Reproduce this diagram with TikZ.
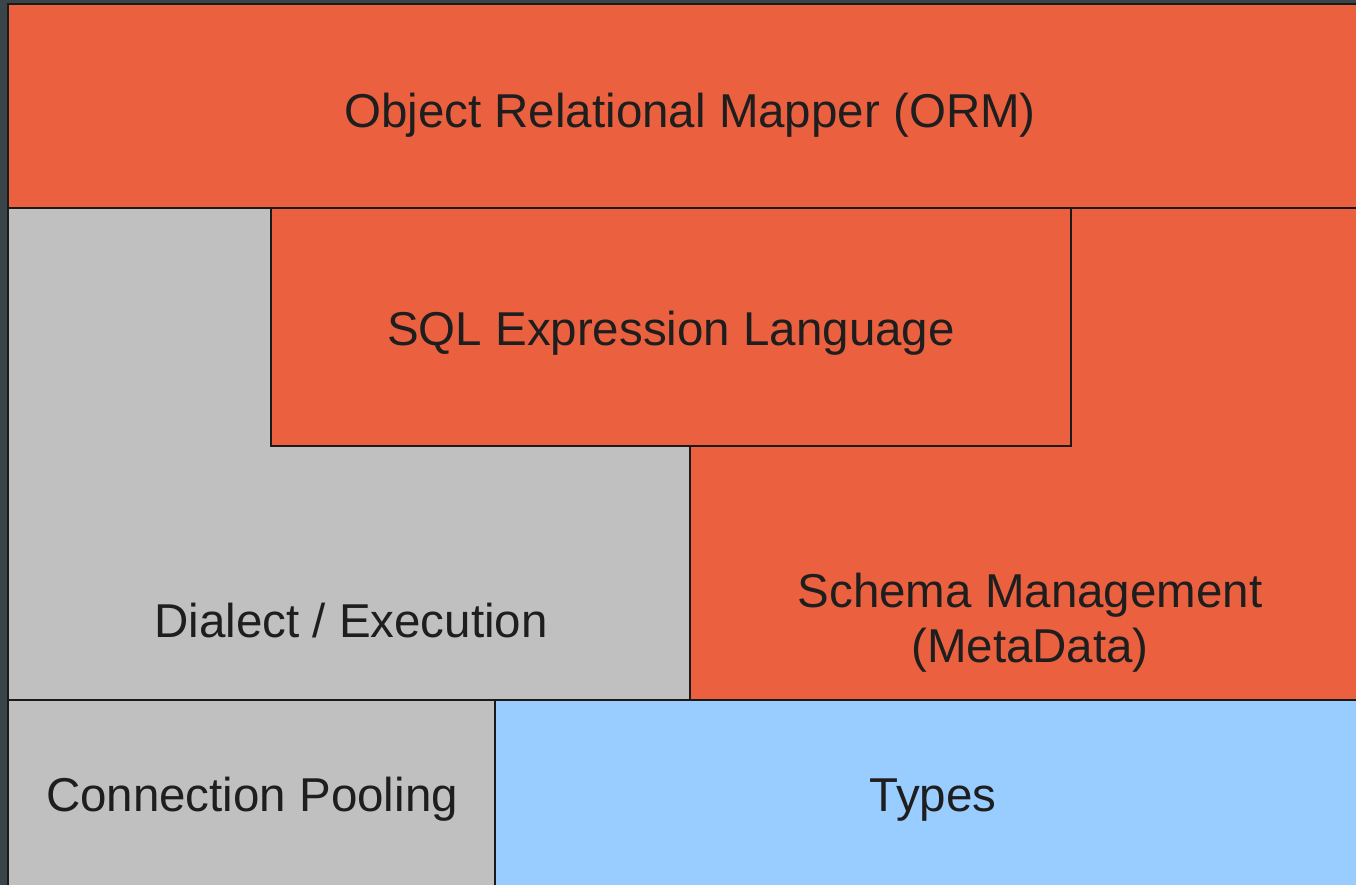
\documentclass[tikz,border=0pt]{standalone}
\usepackage{fontspec}
\setmainfont{Liberation Sans}
\definecolor{bgslate}{HTML}{3A4549}
\definecolor{layerorange}{HTML}{EB6140}
\definecolor{layergray}{HTML}{C0C0C0}
\definecolor{layerblue}{HTML}{99CCFF}
\definecolor{edgedark}{HTML}{1A1A1A}
\definecolor{inkdark}{HTML}{1E1E1E}
\begin{document}
\begin{tikzpicture}[x=1pt,y=-1pt,
  layer/.style={draw=edgedark,line width=1.4pt,inner sep=0pt,outer sep=0pt,anchor=north west},
  label/.style={text=inkdark,font=\fontsize{47.5}{55}\selectfont,inner sep=0pt,anchor=base,align=center}]
  \useasboundingbox (0,0) rectangle (1356,885);
  \fill[bgslate] (0,0) rectangle (1356,885);
  \clip (0,0) rectangle (1356,885);
  % stacked layers, drawn bottom-up so overlaps sit on top
  \node[layer,fill=layerorange,minimum width=1363pt,minimum height=204pt] (orm) at (8,4) {};
  \node[layer,fill=layergray,minimum width=682pt,minimum height=492pt] (dialect) at (8,208) {};
  \node[layer,fill=layerorange,minimum width=681pt,minimum height=492pt] (schema) at (690,208) {};
  \node[layer,fill=layerorange,minimum width=800pt,minimum height=238pt] (sql) at (271,208) {};
  \node[layer,fill=layergray,minimum width=487pt,minimum height=190pt] (pool) at (8,700) {};
  \node[layer,fill=layerblue,minimum width=876pt,minimum height=190pt] (types) at (495,700) {};
  % captions (multi-line base sits on the last line)
  \node[label] (ormtext) at (690,128) {Object Relational Mapper (ORM)};
  \node[label] (sqltext) at (671,345) {SQL Expression Language};
  \node[label] (dialecttext) at (351,637) {Dialect / Execution};
  \node[label] (schematext) at (1030,662) {Schema Management\\(MetaData)};
  \node[label] (pooltext) at (252,811) {Connection Pooling};
  \node[label] (typestext) at (933,811) {Types};
\end{tikzpicture}
\end{document}
